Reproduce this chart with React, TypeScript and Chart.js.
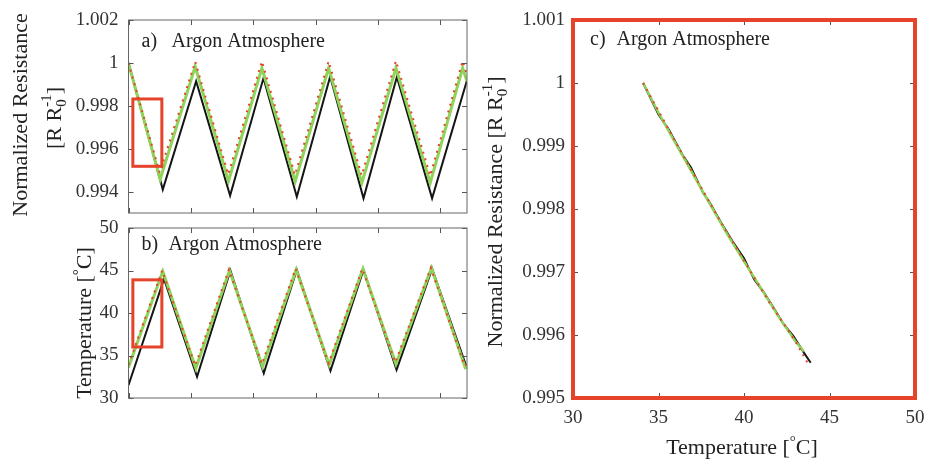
import React, { useEffect, useRef } from "react";
import { Chart, registerables } from "chart.js";
Chart.register(...registerables);

const FONT = '"Liberation Serif", "Times New Roman", serif';
const RED = "#e5432a";
const GREEN = "#8fd35a";
const BLACK = "#151515";
const TXT = "#222";
const TICK_SIZE = 19;

// ---------- Panel a: normalized resistance vs time ----------
const A_TIME_MEAS = [0, 0.55, 1.085, 1.63, 2.165, 2.7, 3.235, 3.77, 4.305, 4.87, 5.43];
const A_RES_MEAS = [1.0, 0.99412, 0.99915, 0.99384, 0.9993, 0.99378, 0.99937, 0.99371, 0.99935, 0.99371, 0.9992];
const A_TIME_FIT = [0, 0.508, 1.07, 1.604, 2.14, 2.674, 3.21, 3.743, 4.29, 4.84, 5.36, 5.43];
const A_RES_FIT = [1.0, 0.99459, 0.99984, 0.99451, 0.99977, 0.9945, 0.99977, 0.99443, 0.99977, 0.99443, 0.99977, 0.99915];
const A_TIME_MODEL = [0, 0.5, 1.07, 1.6, 2.14, 2.67, 3.21, 3.74, 4.29, 4.84, 5.36, 5.43];
const A_RES_MODEL = [1.0, 0.9949, 1.00006, 0.99482, 1.00008, 0.9948, 1.00008, 0.99478, 1.0001, 0.99476, 1.0001, 0.99945];
const A_X_TICKS = [0, 1, 2, 3, 4, 5];
const A_Y_TICKS = [0.994, 0.996, 0.998, 1.0, 1.002];
const A_BOX = { x0: 0.07, x1: 0.535, y0: 0.9952, y1: 0.99833 };

// ---------- Panel b: temperature vs time ----------
const B_TIME_MEAS = [0, 0.57, 1.1, 1.635, 2.17, 2.7, 3.24, 3.77, 4.3, 4.87, 5.43];
const B_TEMP_MEAS = [31.5, 44.0, 32.5, 45.0, 32.9, 45.1, 33.2, 45.1, 33.3, 45.2, 33.5];
const B_TIME_FIT = [0, 0.55, 1.08, 1.62, 2.15, 2.69, 3.22, 3.76, 4.29, 4.86, 5.4, 5.43];
const B_TEMP_FIT = [33.6, 44.9, 33.5, 45.0, 33.7, 45.1, 33.9, 45.2, 34.0, 45.3, 33.6, 33.8];
const B_TIME_MODEL = [0, 0.54, 1.07, 1.61, 2.14, 2.68, 3.21, 3.75, 4.28, 4.85, 5.39, 5.43];
const B_TEMP_MODEL = [33.9, 45.0, 33.8, 45.1, 34.0, 45.2, 34.1, 45.2, 34.2, 45.3, 33.8, 34.0];
const B_X_TICKS = [0, 1, 2, 3, 4, 5];
const B_Y_TICKS = [30, 35, 40, 45, 50];
const B_BOX = { x0: 0.07, x1: 0.535, y0: 36.0, y1: 43.9 };

// ---------- Panel c: normalized resistance vs temperature ----------
const C_TEMP_MEAS = [34.1, 35.0, 35.6, 36.4, 36.9, 37.6, 38.0, 38.8, 39.3, 40.0, 40.6, 41.2, 41.8, 42.3, 42.9, 43.5, 43.9];
const C_RES_MEAS = [1.0, 0.9995, 0.99926, 0.99886, 0.99866, 0.99826, 0.9981, 0.99772, 0.9975, 0.99722, 0.99688, 0.99666, 0.9964, 0.99618, 0.99598, 0.99572, 0.99556];
const C_TEMP_FIT = [34.1, 35.0, 36.0, 37.0, 38.0, 39.0, 40.0, 41.0, 42.0, 43.0, 43.5];
const C_RES_FIT = [1.0, 0.99953, 0.99904, 0.99856, 0.99808, 0.99761, 0.99717, 0.99674, 0.9963, 0.9959, 0.99574];
const C_TEMP_MODEL = [34.1, 35.5, 37.0, 38.5, 40.0, 41.5, 43.0, 43.8];
const C_RES_MODEL = [1.0, 0.99931, 0.99858, 0.99786, 0.99718, 0.99651, 0.9959, 0.99552];
const C_X_TICKS = [30, 35, 40, 45, 50];
const C_Y_TICKS = [0.995, 0.996, 0.997, 0.998, 0.999, 1.0, 1.001];

type Seg = { t: string; s: number; dy: number; stack?: boolean };
type TextItem = { segs: Seg[]; x: number; y: number; rot: boolean; align: "center" | "left" };
type Box = { x0: number; x1: number; y0: number; y1: number };
type Deco = { frameColor: string; frameWidth: number; boxes: Box[]; texts: TextItem[] };

function drawSegs(ctx: CanvasRenderingContext2D, item: TextItem) {
  ctx.save();
  ctx.translate(item.x, item.y);
  if (item.rot) ctx.rotate(-Math.PI / 2);
  ctx.fillStyle = TXT;
  ctx.textBaseline = "alphabetic";
  ctx.textAlign = "left";
  const pos: number[] = [];
  let pen = 0;
  let lastStart = 0;
  item.segs.forEach((sg) => {
    ctx.font = `${sg.s}px ${FONT}`;
    const w = ctx.measureText(sg.t).width;
    const start = sg.stack ? lastStart : pen;
    pos.push(start);
    pen = Math.max(pen, start + w);
    lastStart = start;
  });
  const off = item.align === "center" ? -pen / 2 : 0;
  item.segs.forEach((sg, i) => {
    ctx.font = `${sg.s}px ${FONT}`;
    ctx.fillText(sg.t, off + pos[i], sg.dy);
  });
  ctx.restore();
}

function decoPlugin(d: Deco) {
  return {
    id: "deco",
    afterDraw(chart: any) {
      const { ctx, chartArea: a, scales } = chart;
      const xs = scales.x;
      const ys = scales.y;
      ctx.save();
      ctx.strokeStyle = "#555";
      ctx.lineWidth = 1;
      ctx.beginPath();
      xs.ticks.forEach((t: any) => {
        const p = Math.round(xs.getPixelForValue(t.value)) + 0.5;
        ctx.moveTo(p, a.bottom);
        ctx.lineTo(p, a.bottom - 5);
        ctx.moveTo(p, a.top);
        ctx.lineTo(p, a.top + 5);
      });
      ys.ticks.forEach((t: any) => {
        const p = Math.round(ys.getPixelForValue(t.value)) + 0.5;
        ctx.moveTo(a.left, p);
        ctx.lineTo(a.left + 5, p);
        ctx.moveTo(a.right, p);
        ctx.lineTo(a.right - 5, p);
      });
      ctx.stroke();
      ctx.strokeStyle = RED;
      ctx.lineWidth = 3;
      d.boxes.forEach((b) => {
        const x0 = xs.getPixelForValue(b.x0);
        const x1 = xs.getPixelForValue(b.x1);
        const y0 = ys.getPixelForValue(b.y0);
        const y1 = ys.getPixelForValue(b.y1);
        ctx.strokeRect(x0, y1, x1 - x0, y0 - y1);
      });
      ctx.strokeStyle = d.frameColor;
      ctx.lineWidth = d.frameWidth;
      ctx.strokeRect(a.left, a.top, a.right - a.left, a.bottom - a.top);
      ctx.restore();
      d.texts.forEach((t) => drawSegs(ctx, t));
    },
  };
}

function pts(xs: number[], ys: number[]) {
  return xs.map((x, i) => ({ x, y: ys[i] }));
}

function datasets(tm: number[], ym: number[], tf: number[], yf: number[], tmod: number[], ymod: number[], thin: boolean) {
  return [
    { data: pts(tmod, ymod), borderColor: RED, borderWidth: 2, borderDash: [2, 5], pointRadius: 0, tension: 0 },
    { data: pts(tf, yf), borderColor: GREEN, borderWidth: thin ? 2.5 : 3, pointRadius: 0, tension: 0 },
    { data: pts(tm, ym), borderColor: BLACK, borderWidth: 2, pointRadius: 0, tension: 0 },
  ];
}

const fmt = (v: number) => String(Number(Number(v).toFixed(3)));

function makeConfig(o: {
  ds: any[];
  xMin: number; xMax: number; xTicks: number[]; showX: boolean;
  yMin: number; yMax: number; yTicks: number[];
  padding: any; yWidth: number; xHeight: number; yPad: number; xPad: number; xSidePad: number; deco: Deco;
}): any {
  return {
    type: "line",
    data: { datasets: o.ds },
    options: {
      responsive: false,
      animation: false,
      devicePixelRatio: 1,
      layout: { padding: o.padding },
      plugins: { legend: { display: false }, tooltip: { enabled: false } },
      scales: {
        x: {
          type: "linear",
          min: o.xMin,
          max: o.xMax,
          grid: { display: false, drawTicks: false },
          border: { display: false },
          ticks: {
            display: o.showX,
            font: { family: FONT, size: TICK_SIZE },
            color: "#333",
            padding: o.xPad,
            maxRotation: 0,
            autoSkip: false,
            callback: (v: number) => fmt(v),
          },
          afterBuildTicks: (s: any) => {
            s.ticks = o.xTicks.map((v) => ({ value: v }));
          },
          afterFit: (s: any) => {
            s.height = o.xHeight;
            s.paddingLeft = 0;
            s.paddingRight = o.xSidePad;
          },
        },
        y: {
          type: "linear",
          min: o.yMin,
          max: o.yMax,
          grid: { display: false, drawTicks: false },
          border: { display: false },
          ticks: {
            font: { family: FONT, size: TICK_SIZE },
            color: "#333",
            padding: o.yPad,
            autoSkip: false,
            callback: (v: number) => fmt(v),
          },
          afterBuildTicks: (s: any) => {
            s.ticks = o.yTicks.map((v) => ({ value: v }));
          },
          afterFit: (s: any) => {
            s.width = o.yWidth;
            s.paddingTop = 0;
            s.paddingBottom = 0;
          },
        },
      },
    },
    plugins: [decoPlugin(o.deco)],
  };
}

const rrSegs = (pre: string): Seg[] => [
  { t: pre + "[R R", s: 22, dy: 0 },
  { t: "0", s: 15, dy: 5 },
  { t: "-1", s: 15, dy: -10, stack: true },
  { t: "]", s: 22, dy: 0 },
];
const tempSegs: Seg[] = [
  { t: "Temperature [", s: 22, dy: 0 },
  { t: "°", s: 15, dy: -8 },
  { t: "C]", s: 22, dy: 0 },
];

export default function App() {
  const ra = useRef<HTMLCanvasElement>(null);
  const rb = useRef<HTMLCanvasElement>(null);
  const rc = useRef<HTMLCanvasElement>(null);

  useEffect(() => {
    const cfgA = makeConfig({
      ds: datasets(A_TIME_MEAS, A_RES_MEAS, A_TIME_FIT, A_RES_FIT, A_TIME_MODEL, A_RES_MODEL, false),
      xMin: 0, xMax: 5.43, xTicks: A_X_TICKS, showX: false,
      yMin: 0.99303, yMax: 1.002, yTicks: A_Y_TICKS,
      padding: { left: 0, top: 20, right: 458, bottom: 247 },
      yWidth: 128.5, xHeight: 0, yPad: 10, xPad: 0, xSidePad: 0,
      deco: {
        frameColor: "#666", frameWidth: 1, boxes: [A_BOX],
        texts: [
          { segs: [{ t: "Normalized Resistance", s: 22, dy: 0 }], x: 27, y: 115, rot: true, align: "center" },
          { segs: rrSegs(""), x: 61, y: 118, rot: true, align: "center" },
          { segs: [{ t: "a)", s: 20, dy: 0 }], x: 141.5, y: 47, rot: false, align: "left" },
          { segs: [{ t: "Argon Atmosphere", s: 20, dy: 0 }], x: 171.5, y: 47, rot: false, align: "left" },
        ],
      },
    });
    const cfgB = makeConfig({
      ds: datasets(B_TIME_MEAS, B_TEMP_MEAS, B_TIME_FIT, B_TEMP_FIT, B_TIME_MODEL, B_TEMP_MODEL, false),
      xMin: 0, xMax: 5.43, xTicks: B_X_TICKS, showX: false,
      yMin: 30, yMax: 50, yTicks: B_Y_TICKS,
      padding: { left: 0, top: 228, right: 458, bottom: 62 },
      yWidth: 128.5, xHeight: 0, yPad: 10, xPad: 0, xSidePad: 0,
      deco: {
        frameColor: "#666", frameWidth: 1, boxes: [B_BOX],
        texts: [
          { segs: tempSegs, x: 91, y: 323, rot: true, align: "center" },
          { segs: [{ t: "b)", s: 20, dy: 0 }], x: 141.5, y: 250, rot: false, align: "left" },
          { segs: [{ t: "Argon Atmosphere", s: 20, dy: 0 }], x: 168.5, y: 250, rot: false, align: "left" },
        ],
      },
    });
    const cfgC = makeConfig({
      ds: datasets(C_TEMP_MEAS, C_RES_MEAS, C_TEMP_FIT, C_RES_FIT, C_TEMP_MODEL, C_RES_MODEL, true),
      xMin: 30, xMax: 50, xTicks: C_X_TICKS, showX: true,
      yMin: 0.995, yMax: 1.001, yTicks: C_Y_TICKS,
      padding: { left: 0, top: 20, right: 10, bottom: 0 },
      yWidth: 573, xHeight: 62, yPad: 8, xPad: 9, xSidePad: 10,
      deco: {
        frameColor: RED, frameWidth: 4, boxes: [],
        texts: [
          { segs: rrSegs("Normalized Resistance "), x: 502, y: 212, rot: true, align: "center" },
          { segs: tempSegs, x: 742, y: 454, rot: false, align: "center" },
          { segs: [{ t: "c)", s: 20, dy: 0 }], x: 590, y: 45, rot: false, align: "left" },
          { segs: [{ t: "Argon Atmosphere", s: 20, dy: 0 }], x: 616.5, y: 45, rot: false, align: "left" },
        ],
      },
    });
    const charts = [
      new Chart(ra.current!, cfgA),
      new Chart(rb.current!, cfgB),
      new Chart(rc.current!, cfgC),
    ];
    return () => charts.forEach((c) => c.destroy());
  }, []);

  const cs: React.CSSProperties = { position: "absolute", left: 0, top: 0, width: 925, height: 460 };
  return (
    <div style={{ position: "absolute", left: 0, top: 0, width: 925, height: 460, background: "#fff" }}>
      <canvas ref={ra} width={925} height={460} style={cs} />
      <canvas ref={rb} width={925} height={460} style={cs} />
      <canvas ref={rc} width={925} height={460} style={cs} />
    </div>
  );
}
